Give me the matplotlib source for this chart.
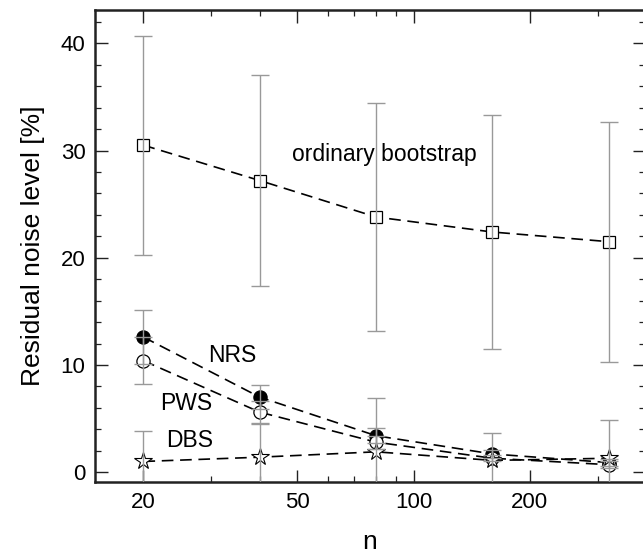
import matplotlib
matplotlib.use("Agg")
import matplotlib.pyplot as plt
from matplotlib.ticker import FixedLocator, NullFormatter, MultipleLocator

plt.rcParams.update({
    'font.family': ['Liberation Sans', 'DejaVu Sans'],
    'font.size': 16,
})

# ── data ───────────────────────────────────────────────
n = [20, 40, 80, 160, 320]

boot = [30.5, 27.2, 23.8, 22.4, 21.5]
boot_err = [10.2, 9.8, 10.6, 10.9, 11.2]

nrs = [12.6, 7.0, 3.4, 1.7, 0.9]
nrs_err = [2.5, 1.1, 0.7, 0.4, 0.3]

pws = [10.4, 5.6, 2.8, 1.3, 0.7]
pws_err = [2.2, 1.0, 0.6, 0.3, 0.3]

dbs = [1.0, 1.4, 1.9, 1.1, 1.3]
dbs_err = [2.8, 3.1, 5.0, 2.6, 3.6]

x_major = [20, 50, 100, 200]
x_minor = [30, 40, 60, 70, 80, 90, 300]

# ── figure ─────────────────────────────────────────────
fig = plt.figure(figsize=(6.43, 5.6), dpi=100)
ax = fig.add_axes([0.148, 0.139, 0.855, 0.843])

DASH = (0, (7, 4))
ERR = dict(fmt='none', ecolor='#999999', elinewidth=1.0, capsize=6.5,
           capthick=1.0, zorder=4)

ax.plot(n, boot, ls=DASH, color='black', lw=1.2, marker='s', ms=9,
        mfc='white', mec='black', mew=0.9, zorder=3)
ax.plot(n, nrs, ls=DASH, color='black', lw=1.2, marker='o', ms=9.5,
        mfc='black', mec='black', mew=0.9, zorder=3)
ax.plot(n, pws, ls=DASH, color='black', lw=1.2, marker='o', ms=9.5,
        mfc='white', mec='black', mew=0.9, zorder=3)
ax.plot(n, dbs, ls=DASH, color='black', lw=1.2, marker='*', ms=13,
        mfc='white', mec='black', mew=0.8, zorder=3)

ax.errorbar(n, boot, yerr=boot_err, **ERR)
ax.errorbar(n, nrs, yerr=nrs_err, **ERR)
ax.errorbar(n, pws, yerr=pws_err, **ERR)
ax.errorbar(n, dbs, yerr=dbs_err, **ERR)

# ── labels in plot ─────────────────────────────────────
ax.text(84, 29.6, 'ordinary bootstrap', ha='center', va='center', fontsize=16.5)
ax.text(34, 10.9, 'NRS', ha='center', va='center', fontsize=16.5)
ax.text(25.8, 6.4, 'PWS', ha='center', va='center', fontsize=16.5)
ax.text(26.3, 3.0, 'DBS', ha='center', va='center', fontsize=16.5)

# ── axes ───────────────────────────────────────────────
ax.set_xscale('log')
ax.set_xlim(15, 397)
ax.set_ylim(-0.93, 43.1)

ax.xaxis.set_major_locator(FixedLocator(x_major))
ax.xaxis.set_minor_locator(FixedLocator(x_minor))
ax.set_xticklabels([str(v) for v in x_major])
ax.xaxis.set_minor_formatter(NullFormatter())
ax.yaxis.set_major_locator(MultipleLocator(10))
ax.yaxis.set_minor_locator(MultipleLocator(2))

ax.tick_params(which='both', direction='in', top=True, right=True,
               labelsize=16, color='#222222')
ax.tick_params(which='major', length=9, width=1.0, pad=7)
ax.tick_params(which='minor', length=4.5, width=0.9)

for sp in ax.spines.values():
    sp.set_linewidth(1.8)
    sp.set_color('#222222')

ax.set_ylabel('Residual noise level [%]', fontsize=19, labelpad=11)
ax.set_xlabel('n', fontsize=19, labelpad=12)

fig.savefig('out.png', dpi=100)
